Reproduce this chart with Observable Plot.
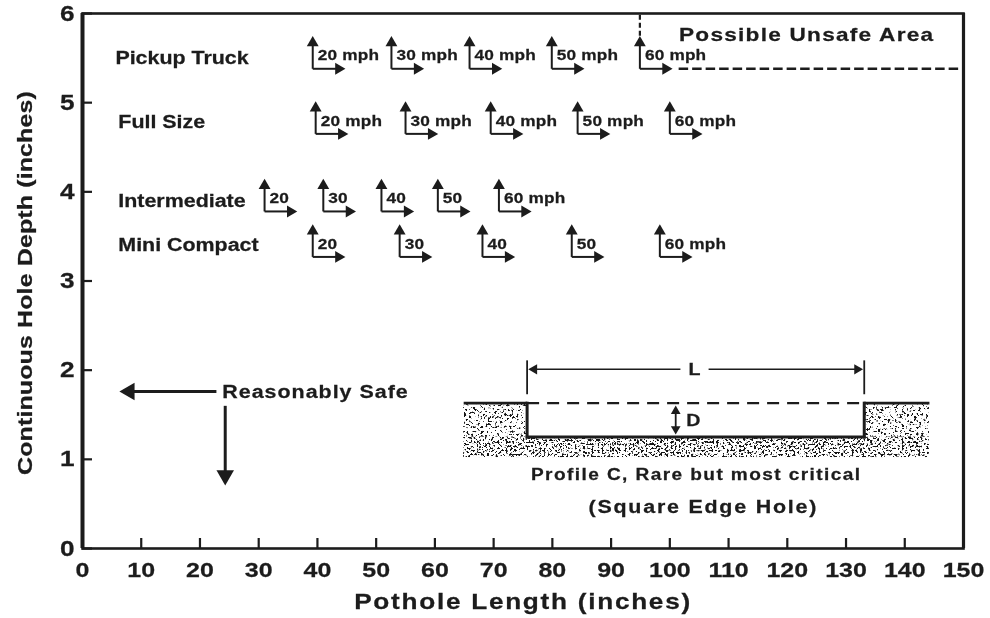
<!DOCTYPE html>
<html>
<head>
<meta charset="utf-8">
<style>html,body{margin:0;padding:0;background:#fff}svg{display:block;filter:blur(0.35px)}</style>
<script src="https://cdn.jsdelivr.net/npm/d3@7"></script>
<script src="https://cdn.jsdelivr.net/npm/@observablehq/plot@0.6"></script>
</head>
<body>
<div id="chart"></div>
<script>
// ---- chart values ----
const vehicles = ["Pickup Truck", "Full Size", "Intermediate", "Mini Compact"];
const vehicleLabelX = [5.6, 6.1, 6.1, 6.1];
const vehicleLabelY = [5.5, 4.78, 3.9, 3.4];
const arrowDepth = [5.38, 4.65, 3.78, 3.27];
const arrowLengths = [
  [39.2, 52.6, 65.9, 79.9, 94.9],
  [39.7, 55.0, 69.5, 84.3, 100.0],
  [31.0, 41.0, 50.9, 60.5, 70.9],
  [39.2, 54.0, 68.1, 83.3, 98.3]
];
const speedLabels = [
  ["20 mph", "30 mph", "40 mph", "50 mph", "60 mph"],
  ["20 mph", "30 mph", "40 mph", "50 mph", "60 mph"],
  ["20", "30", "40", "50", "60 mph"],
  ["20", "30", "40", "50", "60 mph"]
];
const xTicks = [0,10,20,30,40,50,60,70,80,90,100,110,120,130,140,150];
const yTicks = [0,1,2,3,4,5,6];
const stemUp = 0.29, stemRight = 4.4;

const holeLeft = 75.7, holeRight = 133.1, groundLeft = 64.9, groundRight = 144.2;
const groundDepth = 1.63, holeDepth = 1.25, soilDepth = 1.02;

const ink = "#1c1c1c";
const font = "Liberation Sans, Arial, sans-serif";
const textStretch = 1.19;

const arrows = vehicles.flatMap((v, i) => arrowLengths[i].map((x, j) => ({
  vehicle: v, x, y: arrowDepth[i], label: speedLabels[i][j]
})));
const spaced = (px) => ({
  render(index, scales, values, dimensions, context, next) {
    const g = next(index, scales, values, dimensions, context);
    g.style.letterSpacing = px;
    return g;
  }
});
const note = (text, x, y, size, extra = {}) =>
  Plot.text([text], {x: () => x, y: () => y, text: d => d, fontSize: size, fill: ink, ...extra});
const defs = () => {
  const s = d3.create("svg:defs");
  s.html(`
    <filter id="sparse" x="0" y="0" width="1" height="1" color-interpolation-filters="sRGB">
      <feTurbulence type="fractalNoise" baseFrequency="0.42" numOctaves="2" seed="7"/>
      <feColorMatrix values="0 0 0 0 0.08  0 0 0 0 0.08  0 0 0 0 0.08  14 0 0 0 -8.1"/>
      <feComposite in2="SourceGraphic" operator="in"/>
    </filter>
    <filter id="dense" x="0" y="0" width="1" height="1" color-interpolation-filters="sRGB">
      <feTurbulence type="fractalNoise" baseFrequency="0.48" numOctaves="2" seed="11"/>
      <feColorMatrix values="0 0 0 0 0.08  0 0 0 0 0.08  0 0 0 0 0.08  14 0 0 0 -7.5"/>
      <feComposite in2="SourceGraphic" operator="in"/>
    </filter>`);
  return s.node();
};

const chart = Plot.plot({
  width: 990, height: 618,
  marginLeft: 82, marginRight: 27, marginTop: 13, marginBottom: 70,
  x: {domain: [0, 150]},
  y: {domain: [0, 6]},
  style: {fontFamily: font, fontWeight: "bold", color: ink, background: "#fff"},
  marks: [
    defs,
    // soil texture
    Plot.rect([[groundLeft, holeLeft, holeDepth, groundDepth], [holeRight, groundRight, holeDepth, groundDepth]],
      {x1: d => d[0], x2: d => d[1], y1: d => d[2], y2: d => d[3], fill: "#000", imageFilter: "url(#sparse)"}),
    Plot.rect([[groundLeft, groundRight, soilDepth, holeDepth]],
      {x1: d => d[0], x2: d => d[1], y1: d => d[2], y2: d => d[3], fill: "#000", imageFilter: "url(#dense)"}),
    // frame and axes
    Plot.frame({stroke: ink, strokeWidth: 2.6}),
    Plot.ruleX([0], {stroke: ink, strokeWidth: 4}),
    Plot.ruleX([150], {stroke: ink, strokeWidth: 3.2}),
    Plot.axisX({ticks: xTicks, tickSize: -10, tickPadding: 24, fontSize: 21, tickFormat: d => d, stroke: ink, strokeWidth: 2.2, label: null}),
    Plot.axisY({ticks: yTicks, tickSize: -10, tickPadding: 18, fontSize: 22, tickFormat: d => d, stroke: ink, strokeWidth: 2.2, label: null}),
    Plot.text(["Pothole Length (inches)"], {frameAnchor: "bottom", textAnchor: "middle", dy: 60, text: d => d, fontSize: 22, fill: ink, ...spaced("1.45px")}),
    Plot.text(["Continuous Hole Depth (inches)"], {frameAnchor: "left", textAnchor: "middle", dx: -57, dy: 2, rotate: -90, text: d => d, fontSize: 21, fill: ink, ...spaced("0.1px")}),
    // vehicle names
    Plot.text(vehicles, {x: (d, i) => vehicleLabelX[i], y: (d, i) => vehicleLabelY[i], text: d => d, textAnchor: "start", fontSize: 18, fill: ink}),
    // arrow glyphs
    Plot.link(arrows, {x1: "x", y1: "y", x2: "x", y2: d => d.y + stemUp, stroke: ink, strokeWidth: 2}),
    Plot.link(arrows, {x1: "x", y1: "y", x2: d => d.x + stemRight, y2: "y", stroke: ink, strokeWidth: 2}),
    Plot.dot(arrows, {x: "x", y: d => d.y + stemUp, symbol: "triangle", r: 4.4, fill: ink}),
    Plot.dot(arrows, {x: d => d.x + stemRight, y: "y", symbol: "triangle", r: 4.4, rotate: 90, fill: ink}),
    Plot.text(arrows, {x: "x", y: "y", text: "label", dx: 5, dy: -13, textAnchor: "start", fontSize: 14.5, fill: ink, ...spaced("0.15px")}),
    // unsafe boundary
    Plot.link([[94.9, 5.75, 94.9, 6]], {x1: d => d[0], y1: d => d[1], x2: d => d[2], y2: d => d[3], stroke: ink, strokeWidth: 2.2, strokeDasharray: "5,3"}),
    Plot.link([[101.5, 5.38, 150, 5.38]], {x1: d => d[0], y1: d => d[1], x2: d => d[2], y2: d => d[3], stroke: ink, strokeWidth: 2.4, strokeDasharray: "9.5,4"}),
    note("Possible Unsafe Area", 123.3, 5.76, 19, spaced("1.05px")),
    // reasonably safe arrows
    note("Reasonably Safe", 23.8, 1.75, 18, {textAnchor: "start", ...spaced("0.85px")}),
    Plot.link([[22.8, 1.76, 8, 1.76], [24.3, 1.6, 24.3, 0.82]], {x1: d => d[0], y1: d => d[1], x2: d => d[2], y2: d => d[3], stroke: ink, strokeWidth: 3}),
    Plot.dot([[8, 1.76, -90], [24.3, 0.82, 180]], {x: d => d[0], y: d => d[1], rotate: d => d[2], symbol: "triangle", r: 6.5, fill: ink}),
    // hole profile
    Plot.link([[groundLeft, groundDepth, holeLeft, groundDepth], [holeRight, groundDepth, groundRight, groundDepth]],
      {x1: d => d[0], y1: d => d[1], x2: d => d[2], y2: d => d[3], stroke: ink, strokeWidth: 2.6}),
    Plot.link([[holeLeft, groundDepth, holeRight, groundDepth]],
      {x1: d => d[0], y1: d => d[1], x2: d => d[2], y2: d => d[3], stroke: ink, strokeWidth: 2.4, strokeDasharray: "12,8"}),
    Plot.link([[holeLeft, groundDepth, holeLeft, holeDepth], [holeLeft, holeDepth, holeRight, holeDepth], [holeRight, holeDepth, holeRight, groundDepth]],
      {x1: d => d[0], y1: d => d[1], x2: d => d[2], y2: d => d[3], stroke: ink, strokeWidth: 3, strokeLinecap: "square"}),
    // L dimension
    Plot.link([[holeLeft, 1.73, holeLeft, 2.11], [holeRight, 1.73, holeRight, 2.11]],
      {x1: d => d[0], y1: d => d[1], x2: d => d[2], y2: d => d[3], stroke: ink, strokeWidth: 1.8}),
    Plot.link([[holeLeft + 1, 2.01, 101.8, 2.01], [106.6, 2.01, holeRight - 1, 2.01]],
      {x1: d => d[0], y1: d => d[1], x2: d => d[2], y2: d => d[3], stroke: ink, strokeWidth: 1.6}),
    Plot.dot([[76.9, 2.01, -90], [131.9, 2.01, 90]], {x: d => d[0], y: d => d[1], rotate: d => d[2], symbol: "triangle", r: 3.8, fill: ink}),
    note("L", 104.2, 2.0, 16.5),
    // D dimension
    Plot.link([[101, 1.34, 101, 1.54]], {x1: d => d[0], y1: d => d[1], x2: d => d[2], y2: d => d[3], stroke: ink, strokeWidth: 1.8}),
    Plot.dot([[101, 1.54, 0], [101, 1.34, 180]], {x: d => d[0], y: d => d[1], rotate: d => d[2], symbol: "triangle", r: 3.6, fill: ink}),
    note("D", 104, 1.435, 16.5),
    note("Profile C, Rare but most critical", 104.5, 0.83, 16, spaced("1.2px")),
    note("(Square Edge Hole)", 105.7, 0.46, 18, spaced("1.5px"))
  ]
});
// the reference's lettering is an extended heavy bold: widen every text along its baseline and thicken it slightly
chart.querySelectorAll("text").forEach(t => {
  t.setAttribute("transform", `${t.getAttribute("transform") || ""} scale(${textStretch},1)`);
  t.setAttribute("stroke", ink);
  t.setAttribute("stroke-width", "0.25");
});
document.getElementById("chart").append(chart);
</script>
</body>
</html>
